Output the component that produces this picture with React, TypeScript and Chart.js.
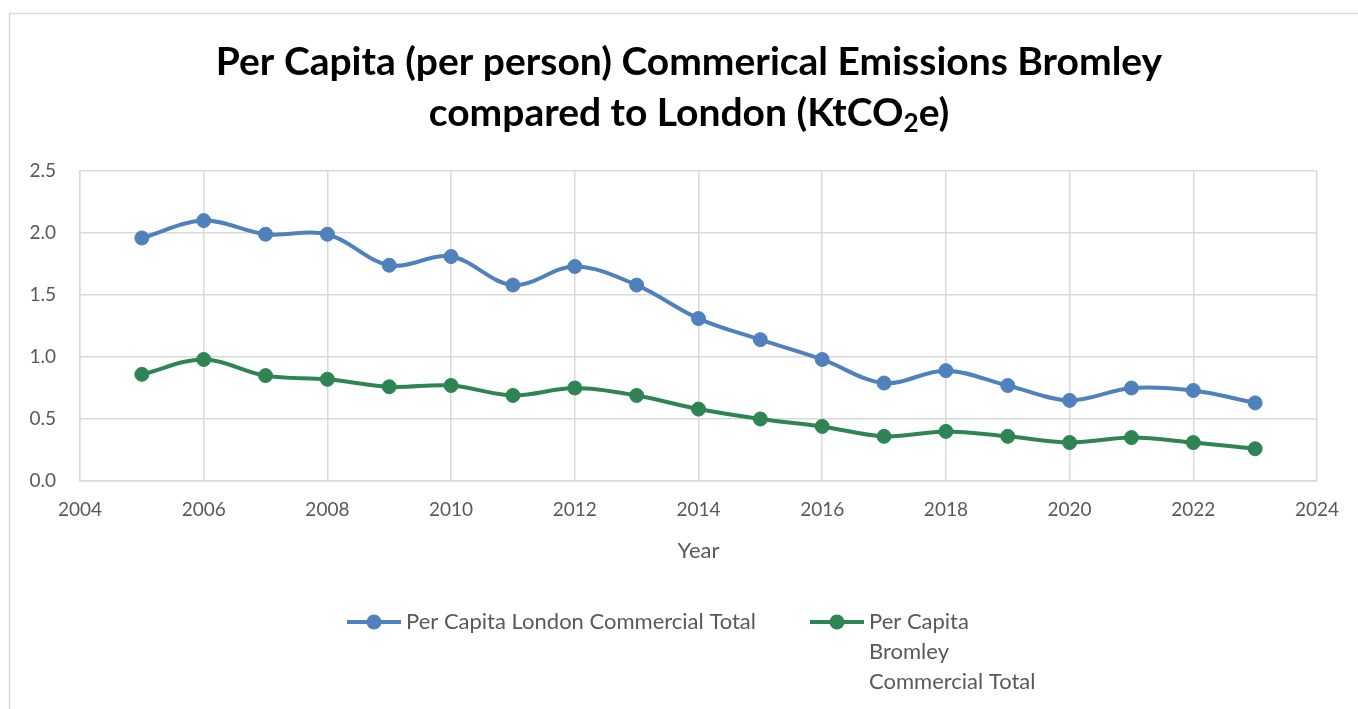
import React, { useEffect, useRef } from "react";
import { Chart, registerables } from "chart.js";

Chart.register(...registerables);

// ---- Data ----
const years = [2005, 2006, 2007, 2008, 2009, 2010, 2011, 2012, 2013, 2014, 2015, 2016, 2017, 2018, 2019, 2020, 2021, 2022, 2023];
const londonValues = [1.96, 2.1, 1.99, 1.99, 1.74, 1.81, 1.58, 1.73, 1.58, 1.31, 1.14, 0.98, 0.79, 0.89, 0.77, 0.65, 0.75, 0.73, 0.63];
const bromleyValues = [0.86, 0.98, 0.85, 0.82, 0.76, 0.77, 0.69, 0.75, 0.69, 0.58, 0.5, 0.44, 0.36, 0.4, 0.36, 0.31, 0.35, 0.31, 0.26];
const seriesNames = ["Per Capita London Commercial Total", "Per Capita Bromley Commercial Total"];
const seriesColors = ["#4f81bd", "#2e8553"];
const titleLine1 = "Per Capita (per person) Commerical Emissions Bromley";
const titleLine2 = ["compared to London (KtCO", "2", "e)"];
const xAxisTitle = "Year";
const xMin = 2004;
const xMax = 2024;
const xStep = 2;
const yMin = 0;
const yMax = 2.5;
const yStep = 0.5;

const FONT = "Lato, 'Open Sans', sans-serif";
const TEXT_GREY = "#595959";
const GRID = "#d9d9d9";

const framePlugin = {
  id: "frameAndTitle",
  beforeDraw(chart: any) {
    const ctx = chart.ctx;
    ctx.save();
    ctx.fillStyle = "#ffffff";
    ctx.fillRect(0, 0, chart.width, chart.height);
    ctx.strokeStyle = GRID;
    ctx.lineWidth = 1.5;
    ctx.beginPath();
    ctx.moveTo(9.5, chart.height + 5);
    ctx.lineTo(9.5, 13.5);
    ctx.lineTo(chart.width + 5, 13.5);
    ctx.stroke();
    ctx.restore();
  },
  afterDraw(chart: any) {
    const ctx = chart.ctx;
    const cx = 689;
    ctx.save();
    ctx.fillStyle = "#000000";
    ctx.textBaseline = "middle";
    ctx.textAlign = "left";
    const big = `bold 39px ${FONT}`;
    const small = `bold 26px ${FONT}`;
    ctx.font = big;
    const w1 = ctx.measureText(titleLine1).width;
    ctx.fillText(titleLine1, cx - w1 / 2, 62);
    const wa = ctx.measureText(titleLine2[0]).width;
    const wc = ctx.measureText(titleLine2[2]).width;
    ctx.font = small;
    const wb = ctx.measureText(titleLine2[1]).width;
    const total = wa + wb + wc;
    let x = cx - total / 2;
    const y2 = 113;
    ctx.font = big;
    ctx.fillText(titleLine2[0], x, y2);
    x += wa;
    ctx.font = small;
    ctx.fillText(titleLine2[1], x, y2 + 11);
    x += wb;
    ctx.font = big;
    ctx.fillText(titleLine2[2], x, y2);

    // Legend
    const items = [
      { x: 347, maxW: 600 },
      { x: 810, maxW: 178 },
    ];
    ctx.font = `22px ${FONT}`;
    chart.data.datasets.forEach((ds: any, i: number) => {
      const it = items[i];
      const ly = 622;
      ctx.strokeStyle = ds.borderColor;
      ctx.lineWidth = 4;
      ctx.beginPath();
      ctx.moveTo(it.x, ly);
      ctx.lineTo(it.x + 54, ly);
      ctx.stroke();
      ctx.fillStyle = ds.borderColor;
      ctx.beginPath();
      ctx.arc(it.x + 27, ly, 7.5, 0, Math.PI * 2);
      ctx.fill();
      const words = String(ds.label).split(" ");
      const lines: string[] = [];
      let cur = "";
      words.forEach((w) => {
        const t = cur ? cur + " " + w : w;
        if (ctx.measureText(t).width > it.maxW && cur) {
          lines.push(cur);
          cur = w;
        } else cur = t;
      });
      if (cur) lines.push(cur);
      ctx.fillStyle = TEXT_GREY;
      lines.forEach((ln, k) => ctx.fillText(ln, it.x + 59, ly + k * 30));
    });
    ctx.restore();
  },
};

export default function App() {
  const ref = useRef<HTMLCanvasElement | null>(null);
  useEffect(() => {
    if (!ref.current) return;
    const mk = (i: number, vals: number[]) => ({
      label: seriesNames[i],
      data: years.map((y, k) => ({ x: y, y: vals[k] })),
      borderColor: seriesColors[i],
      backgroundColor: seriesColors[i],
      pointBackgroundColor: seriesColors[i],
      pointBorderColor: seriesColors[i],
      borderWidth: 4,
      pointRadius: 7,
      pointBorderWidth: 1,
      tension: 0.35,
      fill: false,
    });
    const chart = new Chart(ref.current, {
      type: "line",
      data: {
        datasets: [mk(0, londonValues), mk(1, bromleyValues)],
      },
      options: {
        responsive: false,
        animation: false,
        devicePixelRatio: 1,
        layout: { padding: { left: 0, right: 41, top: 171, bottom: 138 } },
        plugins: {
          legend: { display: false },
          title: { display: false },
          tooltip: { enabled: false },
        },
        scales: {
          x: {
            type: "linear",
            min: xMin,
            max: xMax,
            ticks: {
              stepSize: xStep,
              color: TEXT_GREY,
              font: { family: FONT, size: 19 },
              padding: 17,
              callback: (v: any) => String(v),
              maxRotation: 0,
            },
            grid: { color: GRID, lineWidth: 1.5, drawTicks: false },
            border: { color: GRID, width: 1.5 },
            title: {
              display: true,
              text: xAxisTitle,
              color: TEXT_GREY,
              font: { family: FONT, size: 22 },
              padding: { top: 0, bottom: 7 },
            },
            afterFit: (s: any) => {
              s.height = 90;
            },
          },
          y: {
            min: yMin,
            max: yMax,
            ticks: {
              stepSize: yStep,
              color: TEXT_GREY,
              font: { family: FONT, size: 19 },
              padding: 24,
              callback: (v: any) => Number(v).toFixed(1),
            },
            grid: { color: GRID, lineWidth: 1.5, drawTicks: false },
            border: { color: GRID, width: 1.5 },
            afterFit: (s: any) => {
              s.width = 80;
            },
          },
        },
      },
      plugins: [framePlugin],
    } as any);
    return () => chart.destroy();
  }, []);
  return (
    <div style={{ position: "fixed", left: 0, top: 0, width: 1358, height: 709, background: "#fff" }}>
      <canvas ref={ref} width={1358} height={709} style={{ display: "block" }} />
    </div>
  );
}
